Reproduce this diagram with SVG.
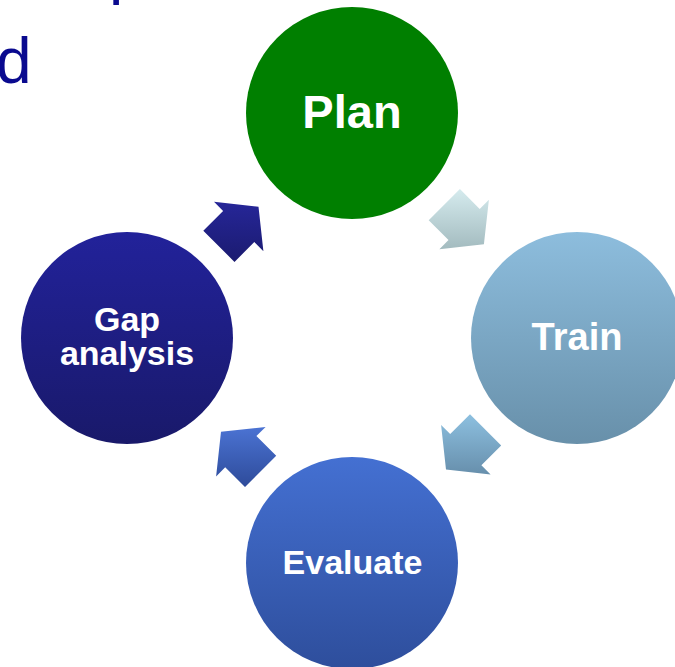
<svg xmlns="http://www.w3.org/2000/svg" width="675" height="667" viewBox="0 0 675 667">
<defs>
<linearGradient id="gTrain" x1="0" y1="0" x2="0" y2="1"><stop offset="0" stop-color="#8dbddd"/><stop offset="1" stop-color="#6890aa"/></linearGradient>
<linearGradient id="gEval" x1="0" y1="0" x2="0" y2="1"><stop offset="0" stop-color="#4470d2"/><stop offset="1" stop-color="#2e4e9c"/></linearGradient>
<linearGradient id="gGap" x1="0" y1="0" x2="0" y2="1"><stop offset="0" stop-color="#22229a"/><stop offset="1" stop-color="#19196a"/></linearGradient>
<linearGradient id="a1" x1="0" y1="0" x2="0" y2="1"><stop offset="0" stop-color="#262698"/><stop offset="1" stop-color="#1b1b70"/></linearGradient>
<linearGradient id="a2" x1="0" y1="0" x2="0" y2="1"><stop offset="0" stop-color="#d5ebee"/><stop offset="1" stop-color="#a3bbbf"/></linearGradient>
<linearGradient id="a3" x1="0" y1="0" x2="0" y2="1"><stop offset="0" stop-color="#8dc0e0"/><stop offset="1" stop-color="#678fac"/></linearGradient>
<linearGradient id="a4" x1="0" y1="0" x2="0" y2="1"><stop offset="0" stop-color="#4b73d3"/><stop offset="1" stop-color="#2e4b9a"/></linearGradient>
</defs>
<style>
.title{font-family:"Liberation Sans",Arial,sans-serif;font-size:64px;fill:#0a0a8f}
.lbl{font-family:"Liberation Sans",Arial,sans-serif;font-weight:bold;fill:#ffffff;text-anchor:middle}
</style>
<rect width="675" height="667" fill="#ffffff"/>
<text class="title" x="109" y="-8.5">p</text>
<text class="title" x="-4" y="83">d</text>
<g id="connectors">
<path d="M203.3,230.7 L223.1,210.9 L214.0,201.8 L258.5,206.7 L263.4,251.3 L254.3,242.1 L234.5,261.9 Z" fill="url(#a1)"/>
<path d="M459.9,189.1 L479.7,208.9 L488.9,199.8 L483.9,244.3 L439.4,249.3 L448.5,240.1 L428.7,220.3 Z" fill="url(#a2)"/>
<path d="M501.2,445.4 L481.4,465.2 L490.6,474.4 L446.0,469.4 L441.1,424.9 L450.2,434.0 L470.0,414.2 Z" fill="url(#a3)"/>
<path d="M245.0,487.0 L225.2,467.2 L216.1,476.4 L221.0,431.8 L265.6,426.9 L256.4,436.0 L276.2,455.8 Z" fill="url(#a4)"/>
</g>
<g id="plan">
<circle cx="352" cy="113" r="106" fill="#007f00"/>
<text class="lbl" x="352" y="128" font-size="47">Plan</text>
</g>
<g id="train">
<circle cx="577" cy="338" r="106" fill="url(#gTrain)"/>
<text class="lbl" x="577" y="350" font-size="38">Train</text>
</g>
<g id="evaluate">
<circle cx="352" cy="563" r="106" fill="url(#gEval)"/>
<text class="lbl" x="352.5" y="574" font-size="34">Evaluate</text>
</g>
<g id="gap">
<circle cx="127" cy="338" r="106" fill="url(#gGap)"/>
<text class="lbl" font-size="34"><tspan x="127" y="331">Gap</tspan><tspan x="127" y="365">analysis</tspan></text>
</g>
</svg>
